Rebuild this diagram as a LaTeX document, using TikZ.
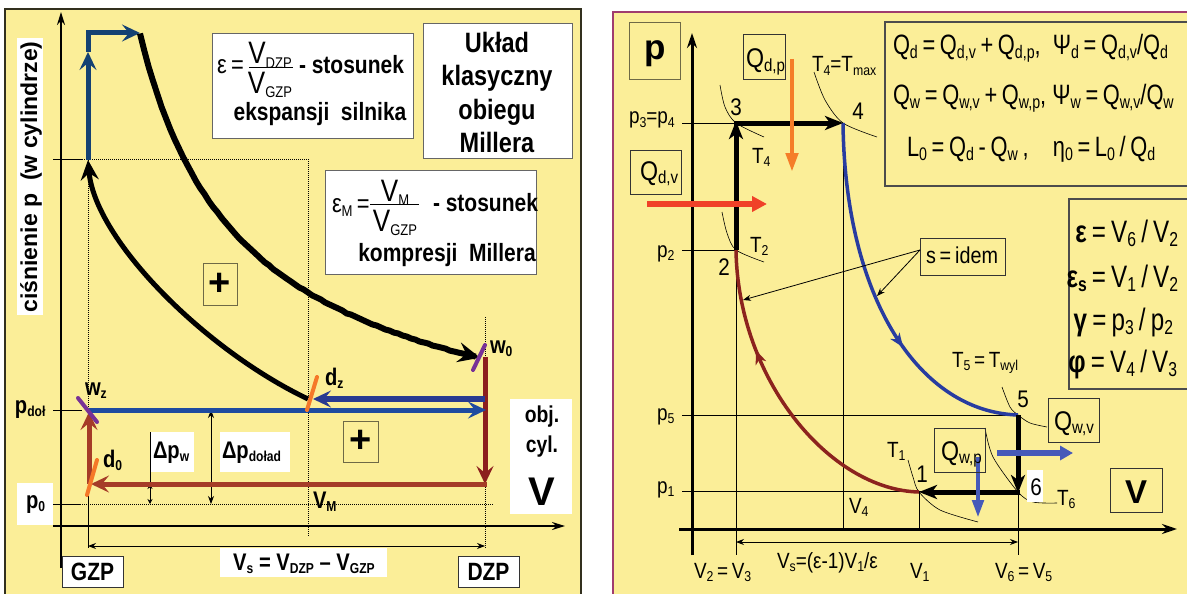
\documentclass[tikz,border=0pt]{standalone}
\usepackage{fontspec}
\usepackage{graphicx}
\setmainfont{Liberation Sans}
\newfontfamily\cf[FakeStretch=0.84]{Liberation Sans}
\newfontfamily\rf[FakeStretch=0.86]{Liberation Sans}
\newfontfamily\rfm[FakeStretch=0.78]{Liberation Sans}
\usetikzlibrary{arrows.meta,decorations.markings}
\newcommand\fs[1]{\fontsize{#1}{#1}\selectfont}
\newcommand\sbx[2][0.55]{\raisebox{-0.16em}{\scalebox{#1}{#2}}}
\newcommand\sbr[1]{\raisebox{-0.14em}{\scalebox{0.65}{#1}}}
\definecolor{yel}{RGB}{251,238,152}
\definecolor{lframe}{RGB}{50,48,30}
\definecolor{rframe}{RGB}{160,60,110}
\definecolor{dblue}{RGB}{20,65,115}
\definecolor{mblue}{RGB}{30,75,160}
\definecolor{mblue2}{RGB}{40,58,145}
\definecolor{dred}{RGB}{140,30,30}
\definecolor{bred}{RGB}{165,60,40}
\definecolor{orng}{RGB}{245,120,40}
\definecolor{purp}{RGB}{120,50,150}
\definecolor{rblue}{RGB}{40,60,160}
\definecolor{rred}{RGB}{140,35,30}
\definecolor{qred}{RGB}{240,65,40}
\definecolor{qorange}{RGB}{245,125,40}
\definecolor{qblue}{RGB}{70,90,185}
\definecolor{olive}{RGB}{110,105,70}
\begin{document}
\begin{tikzpicture}[x=1pt,y=-1pt,
  bx/.style={draw,inner sep=0pt,outer sep=0pt,anchor=north west,line width=0.8pt},
  txt/.style={inner sep=0pt,outer sep=0pt},
  lb/.style={txt,font=\cf\bfseries\fs{24}},
  rl/.style={txt,font=\rf\fs{22}},
  fr/.style={txt,anchor=base,font=\cf\fs{31}},
  thinl/.style={line width=0.8pt},
  dotl/.style={line width=0.9pt,dash pattern=on 1pt off 1pt},
  harr/.style={-{Stealth[length=18pt,width=17pt,inset=7pt]}},
  karr/.style={-{Stealth[length=18pt,width=14pt,inset=5pt]}},
  tarr/.style={-{Stealth[length=8pt,width=6pt]}},
  dtarr/.style={{Stealth[length=8pt,width=6pt]}-{Stealth[length=8pt,width=6pt]}},
  valve/.style={line width=4pt,line cap=round},
  isot/.style={line width=0.6pt},
]
\useasboundingbox (0,0) rectangle (1187,594);
\fill[white] (0,0) rectangle (1187,594);
% ================= LEFT PANEL =================
\filldraw[fill=yel,draw=lframe,line width=2pt] (5,9) rectangle (581,600);
% guides
\draw[thinl] (53,159) -- (82,159);
\draw[dotl] (82,159) -- (308,159) -- (308,536);
\draw[dotl] (88,160) -- (88,493);
\draw[thinl] (88,493) -- (88,548);
\draw[dotl] (485,317) -- (485,548);
\draw[thinl] (53,410) -- (82,410);
\draw[thinl] (53,504) -- (80,504);
\draw[dotl] (80,504) -- (493,504);
% axes
\coordinate (ly0) at (61,568); \coordinate (ly1) at (61,12);
\coordinate (lx0) at (53,526); \coordinate (lx1) at (565,526);
\draw[line width=2pt,-{Stealth[length=13pt,width=8pt]}] (ly0) -- (ly1);
\draw[line width=2pt,-{Stealth[length=13pt,width=8pt]}] (lx0) -- (lx1);
% Vs arrow
\coordinate (vsa) at (88,546); \coordinate (vsb) at (485,546);
\draw[thinl,dtarr] (vsa) -- (vsb);
% delta p arrows
\draw[thinl] (150,432) -- (150,486);
\draw[thinl,{Stealth[length=5pt,width=5pt]}-{Stealth[length=5pt,width=5pt]}] (150,484) -- (150,504);
\draw[thinl,dtarr] (211,410) -- (211,504);
% key points
\coordinate (Lgb) at (88,160); \coordinate (Lga) at (88,33); \coordinate (Lgt) at (140,33);
\coordinate (Lw0) at (485,357); \coordinate (Ld) at (485,484); \coordinate (Le) at (89,484);
\coordinate (Lwz) at (88,410); \coordinate (Ldz) at (308,399);
% red lines
\draw[dred,line width=5pt,harr] (Lw0) -- (Ld);
\draw[bred,line width=5pt,harr] (487,484) -- (91,484);
\draw[bred,line width=5pt,harr] (Le) -- (89,412);
% blue p_dol lines
\draw[mblue,line width=5pt,harr] (Lwz) -- (486,410);
\draw[mblue2,line width=6pt,harr] (485,399) -- (313,399);
% blue top
\draw[dblue,line width=5pt,harr] (Lgb) -- (88,52);
\draw[dblue,line width=5pt,harr] (88,52) -- (Lga) -- (Lgt);
% black curves
\draw[line width=6pt,-{Stealth[length=22pt,width=20pt,inset=8pt]}] plot[domain=79:419,samples=80,variable=\t] ({61+\t},{504-10030*\t^(-0.7)});
\draw[line width=5pt,{Stealth[length=20pt,width=18pt,inset=7pt]}-] (Lgb) .. controls (95,240) and (205,350) .. (Ldz);
% valves
\draw[purp,valve] (78,398) -- (97,422);
\draw[orng,valve] (87,495) -- (97,460);
\draw[orng,valve] (307,410) -- (317,377);
\draw[purp,valve] (473,370) -- (485,345);
\node[lb,anchor=base west] (lwz) at (85,395) {w\sbx[0.6]{z}};
\node[lb,anchor=base west] (ld0) at (103,467) {d\sbx[0.6]{0}};
\node[lb,anchor=base west] (ldz) at (325,385) {d\sbx[0.6]{z}};
\node[lb,anchor=base west] (lw0) at (490,353) {w\sbx[0.6]{0}};
\node[lb,anchor=base west] (lvm) at (313,508) {V\sbx[0.6]{M}};
% y label
\node[fill=white,inner sep=0pt,minimum width=26pt,minimum height=277pt,anchor=north west] (ylb) at (17,38) {};
\node[txt,rotate=90,font=\bfseries\fs{23}] (ylbt) at (31,177) {ciśnienie p\ \ (w cylindrze)};
\node[lb,anchor=base west] (pdol) at (15,413) {p\sbx[0.6]{doł}};
\node[fill=white,inner sep=0pt,minimum width=36pt,minimum height=42pt,anchor=north west] (p0b) at (17,483) {};
\node[lb,anchor=base west] (p0t) at (26,508) {p\sbx[0.6]{0}};
% delta p labels
\node[fill=white,inner sep=0pt,minimum width=43pt,minimum height=40pt,anchor=north west] (dpwb) at (150.5,432) {};
\node[lb,anchor=base west] (dpw) at (153,458) {Δp\sbx[0.6]{w}};
\node[fill=white,inner sep=0pt,minimum width=70pt,minimum height=40pt,anchor=north west] (dpdb) at (220,432) {};
\node[lb,anchor=base west] (dpd) at (222,458) {Δp\sbx[0.6]{doład}};
% plus boxes
\node[bx,draw=olive,minimum width=34pt,minimum height=42pt] (plus1) at (203,263) {};
\node[txt,font=\bfseries\fs{38}] at (plus1.center) {+};
\node[bx,draw=olive,minimum width=35pt,minimum height=41pt] (plus2) at (343,421) {};
\node[txt,font=\bfseries\fs{38}] at (plus2.center) {+};
% obj cyl V
\node[fill=white,inner sep=0pt,minimum width=62pt,minimum height=115pt,anchor=north west] (objb) at (510,399) {};
\node[lb,font=\cf\bfseries\fs{23},anchor=base] (obj) at (542,422) {obj.};
\node[lb,font=\cf\bfseries\fs{23},anchor=base] (cyl) at (542,452) {cyl.};
\node[lb,font=\bfseries\fs{40},anchor=base] (bigV) at (542,505) {V};
% bottom labels
\node[bx,fill=white,draw=black!80,minimum width=61pt,minimum height=31pt] (gzp) at (62,556) {};
\node[lb,font=\cf\bfseries\fs{25}] at (gzp.center) {GZP};
\node[bx,fill=white,draw=black!80,minimum width=61pt,minimum height=31pt] (dzp) at (458,556) {};
\node[lb,font=\cf\bfseries\fs{25}] at (dzp.center) {DZP};
\node[fill=white,inner sep=0pt,minimum width=167pt,minimum height=29pt,anchor=north west] (vsbx) at (220,548) {};
\node[lb,anchor=base] (vst) at (304,570) {V\sbx[0.6]{s} = V\sbx[0.6]{DZP} – V\sbx[0.6]{GZP}};
% formula box 1
\node[bx,fill=white,draw=black!60,minimum width=201pt,minimum height=105pt] (f1) at (212,33) {};
\node[txt,anchor=base west,font=\cf\fs{26}] (f1e) at (217,74) {ε\,=};
\node[fr] (f1n) at (270,64) {V\sbx[0.5]{DZP}};
\node[fr] (f1d) at (270,93) {V\sbx[0.5]{GZP}};
\coordinate (f1l) at (249,68); \coordinate (f1r) at (293,68);
\draw[line width=1pt] (f1l) -- (f1r);
\node[lb,anchor=base west,font=\cf\bfseries\fs{25}] (f1s) at (299,74) {- stosunek};
\node[lb,anchor=base,font=\cf\bfseries\fs{25}] (f1b) at (320,121) {ekspansji\ \ silnika};
% formula box 2
\node[bx,fill=white,draw=black!60,minimum width=211pt,minimum height=104pt] (f2) at (325,170) {};
\node[txt,anchor=base west,font=\cf\fs{26}] (f2e) at (332,212) {ε\sbx[0.6]{M}\,=};
\node[fr] (f2n) at (395,201) {V\sbx[0.5]{M}};
\node[fr] (f2d) at (395,231) {V\sbx[0.5]{GZP}};
\coordinate (f2l) at (370,204); \coordinate (f2r) at (419,204);
\draw[line width=1pt] (f2l) -- (f2r);
\node[lb,anchor=base west,font=\cf\bfseries\fs{25}] (f2s) at (433,211) {- stosunek};
\node[lb,anchor=base,font=\cf\bfseries\fs{25}] (f2b) at (447,261) {kompresji\ \ Millera};
% title box
\node[bx,fill=white,draw=black!60,minimum width=149pt,minimum height=135pt] (tb) at (423,23) {};
\node[lb,anchor=base,font=\cf\bfseries\fs{28}] (t1) at (497,53) {Układ};
\node[lb,anchor=base,font=\cf\bfseries\fs{28}] (t2) at (497,86) {klasyczny};
\node[lb,anchor=base,font=\cf\bfseries\fs{28}] (t3) at (497,119) {obiegu};
\node[lb,anchor=base,font=\cf\bfseries\fs{28}] (t4) at (497,152) {Millera};
% ================= RIGHT PANEL =================
\filldraw[fill=yel,draw=rframe,line width=1.5pt] (613,12) rectangle (1195,600);
% thin guides
\draw[thinl] (682,123) -- (736,123);
\draw[thinl] (682,250) -- (736,250);
\draw[thinl] (682,415) -- (1018,415);
\draw[thinl] (682,491) -- (1018,491);
\draw[thinl] (736,250) -- (736,555);
\draw[thinl] (843,123) -- (843,529);
\draw[thinl] (919,492) -- (919,529);
\draw[thinl] (1018,492) -- (1018,555);
\coordinate (rvs1) at (736,542); \coordinate (rvs2) at (1018,542);
\draw[thinl,dtarr] (rvs1) -- (rvs2);
% axes
\coordinate (ry0) at (692,555); \coordinate (ry1) at (692,33);
\coordinate (rx0) at (679,529); \coordinate (rx1) at (1177,529);
\draw[line width=3pt,-{Stealth[length=15pt,width=10pt]}] (ry0) -- (ry1);
\draw[line width=3pt,-{Stealth[length=15pt,width=10pt]}] (rx0) -- (rx1);
% isotherms
\draw[isot] plot[smooth] coordinates {(720,85) (725,107) (736,123) (764,137)};
\draw[isot] plot[smooth] coordinates {(814,72) (825,100) (843,123) (877,137)};
\draw[isot] plot[smooth] coordinates {(722,212) (727,233) (736,250) (764,262)};
\draw[isot] plot[smooth] coordinates {(1002,387) (1010,407) (1018,415) (1030,423) (1047,427)};
\draw[isot] plot[smooth] coordinates {(985,428) (993,457) (1018,492) (1033,502) (1057,503)};
\draw[isot] plot[smooth] coordinates {(908,460) (913,477) (919,492) (940,510) (978,522)};
% points
\coordinate (R1) at (919,492); \coordinate (R2) at (736,250); \coordinate (R3) at (736,123);
\coordinate (R4) at (843,123); \coordinate (R5) at (1018,415); \coordinate (R6) at (1018,492);
% curves
\draw[rblue,line width=3.5pt,postaction={decorate},decoration={markings,mark=at position 0.63 with {\arrow{Stealth[length=14pt,width=11pt,inset=4pt]}}}] (R4) .. controls (845,300) and (920,412) .. (R5);
\draw[rred,line width=3.5pt,postaction={decorate},decoration={markings,mark=at position 0.69 with {\arrow{Stealth[length=14pt,width=11pt,inset=4pt]}}}] (R1) .. controls (830,490) and (738,380) .. (R2);
% thick black
\draw[line width=5pt,karr] (R2) -- (736,121);
\draw[line width=5pt,karr] (734,123) -- (R4);
\draw[line width=5pt,karr] (R5) -- (1018,493);
\draw[line width=5pt,karr] (1020,492) -- (R1);
% heat arrows
\draw[qred,line width=6pt,-{Triangle[length=15pt,width=15pt]}] (647,204) -- (767,204);
\draw[qorange,line width=4.5pt,-{Triangle[length=19pt,width=12pt]}] (792,59) -- (792,172);
\draw[qblue,line width=6pt,-{Triangle[length=13pt,width=14pt]}] (997,453) -- (1073,453);
\draw[qblue,line width=4.5pt,-{Triangle[length=18pt,width=11pt]}] (978,457) -- (978,518);
% boxes
\node[bx,draw=olive,minimum width=51pt,minimum height=57pt] (pb) at (629,22) {};
\node[txt,anchor=base,font=\bfseries\fs{35}] (pt) at (655,60) {p};
\node[bx,draw=black!80,minimum width=42pt,minimum height=45pt] (qdpb) at (743,34) {};
\node[rl,anchor=base west,font=\rf\fs{27}] (qdp) at (746,68) {Q\sbr{d,p}};
\node[bx,draw=black!80,minimum width=51pt,minimum height=44pt] (qdvb) at (630,150) {};
\node[rl,anchor=base west,font=\rf\fs{27}] (qdv) at (640,180) {Q\sbr{d,v}};
\node[bx,draw=black!80,minimum width=51pt,minimum height=44pt] (qwvb) at (1048,398) {};
\node[rl,anchor=base west,font=\rf\fs{27}] (qwv) at (1054,430) {Q\sbr{w,v}};
\node[bx,draw=black!80,minimum width=51pt,minimum height=44pt] (qwpb) at (934,428) {};
\node[rl,anchor=base west,font=\rf\fs{27}] (qwp) at (941,460) {Q\sbr{w,p}};
\node[bx,draw=black!80,minimum width=52pt,minimum height=44pt] (vb) at (1110,468) {};
\node[txt,anchor=base,font=\bfseries\fs{33}] (vt) at (1136,503) {V};
\node[bx,draw=black!80,minimum width=85pt,minimum height=37pt] (sid) at (920,238) {};
\node[rl,anchor=base,font=\rf\fs{23}] (sidt) at (962,263) {s\,=\,idem};
\coordinate (sidA) at (920,250);
\draw[thinl,tarr] (sidA) -- (743,300);
\draw[thinl,tarr] (sidA) -- (877,296);
% formula boxes right
\node[bx,draw=black!70,line width=1.2pt,minimum width=310pt,minimum height=164pt] (rf1) at (885,22) {};
\node[txt,anchor=base west,font=\rfm\fs{28}] (rf1a) at (893,55) {Q\sbr{d}\,=\,Q\sbr{d,v}\,+\,Q\sbr{d,p},\ \ Ψ\sbr{d}\,=\,Q\sbr{d,v}/Q\sbr{d}};
\node[txt,anchor=base west,font=\rfm\fs{28}] (rf1b) at (893,105) {Q\sbr{w}\,=\,Q\sbr{w,v}\,+\,Q\sbr{w,p},\ Ψ\sbr{w}\,=\,Q\sbr{w,v}/Q\sbr{w}};
\node[txt,anchor=base west,font=\rfm\fs{28}] (rf1c) at (907,157) {L\sbr{0}\,=\,Q\sbr{d}\,-\,Q\sbr{w}\,,\ \ \ \ η\sbr{0}\,=\,L\sbr{0}\,/\,Q\sbr{d}};
\node[bx,draw=black!70,line width=1.2pt,minimum width=126pt,minimum height=190pt] (rf2) at (1069,199) {};
\node[txt,anchor=base east,font=\rfm\fs{31}] (rf2a) at (1178,242) {{\bfseries ε}\,=\,V\sbr{6}\,/\,V\sbr{2}};
\node[txt,anchor=base east,font=\rfm\fs{31}] (rf2b) at (1178,287) {{\bfseries ε\sbr{s}}\,=\,V\sbr{1}\,/\,V\sbr{2}};
\node[txt,anchor=base east,font=\rfm\fs{31}] (rf2c) at (1173,330) {{\bfseries γ}\,=\,p\sbr{3}\,/\,p\sbr{2}};
\node[txt,anchor=base east,font=\rfm\fs{31}] (rf2d) at (1177,372) {{\bfseries φ}\,=\,V\sbr{4}\,/\,V\sbr{3}};
% labels
\node[rl,anchor=base west] (lp34) at (629,124) {p\sbr{3}=p\sbr{4}};
\node[rl,anchor=base west] (lp2) at (657,257) {p\sbr{2}};
\node[rl,anchor=base west] (lp5) at (657,420) {p\sbr{5}};
\node[rl,anchor=base west] (lp1) at (657,493) {p\sbr{1}};
\node[rl,anchor=base,font=\rf\fs{24}] (n3) at (736,115) {3};
\node[rl,anchor=base,font=\rf\fs{24}] (n4) at (858,120) {4};
\node[rl,anchor=base,font=\rf\fs{24}] (n2) at (724,275) {2};
\node[rl,anchor=base,font=\rf\fs{24}] (n5) at (1023,407) {5};
\node[fill=white,inner sep=0pt,minimum width=16pt,minimum height=32pt,anchor=north west] (n6b) at (1027,470) {};
\node[rl,anchor=base,font=\rf\fs{24}] (n6) at (1036,495) {6};
\node[rl,anchor=base,font=\rf\fs{24}] (n1) at (922,482) {1};
\node[rl,anchor=base west] (lt4) at (752,163) {T\sbr{4}};
\node[rl,anchor=base west] (lt4m) at (812,72) {T\sbr{4}=T\sbr{max}};
\node[rl,anchor=base west] (lt2) at (750,252) {T\sbr{2}};
\node[rl,anchor=base west] (lt5) at (952,367) {T\sbr{5}\,=\,T\sbr{wyl}};
\node[rl,anchor=base west] (lt6) at (1057,505) {T\sbr{6}};
\node[rl,anchor=base west] (lt1) at (887,457) {T\sbr{1}};
\node[rl,anchor=base west] (lv4) at (849,513) {V\sbr{4}};
\node[rl,anchor=base west] (lv1) at (910,578) {V\sbr{1}};
\node[rl,anchor=base west] (lv65) at (995,578) {V\sbr{6}\,=\,V\sbr{5}};
\node[rl,anchor=base west] (lv23) at (694,578) {V\sbr{2}\,=\,V\sbr{3}};
\node[rl,anchor=base west] (lvs) at (777,568) {V\sbr{s}=(ε-1)V\sbr{1}/ε};
\end{tikzpicture}
\end{document}
